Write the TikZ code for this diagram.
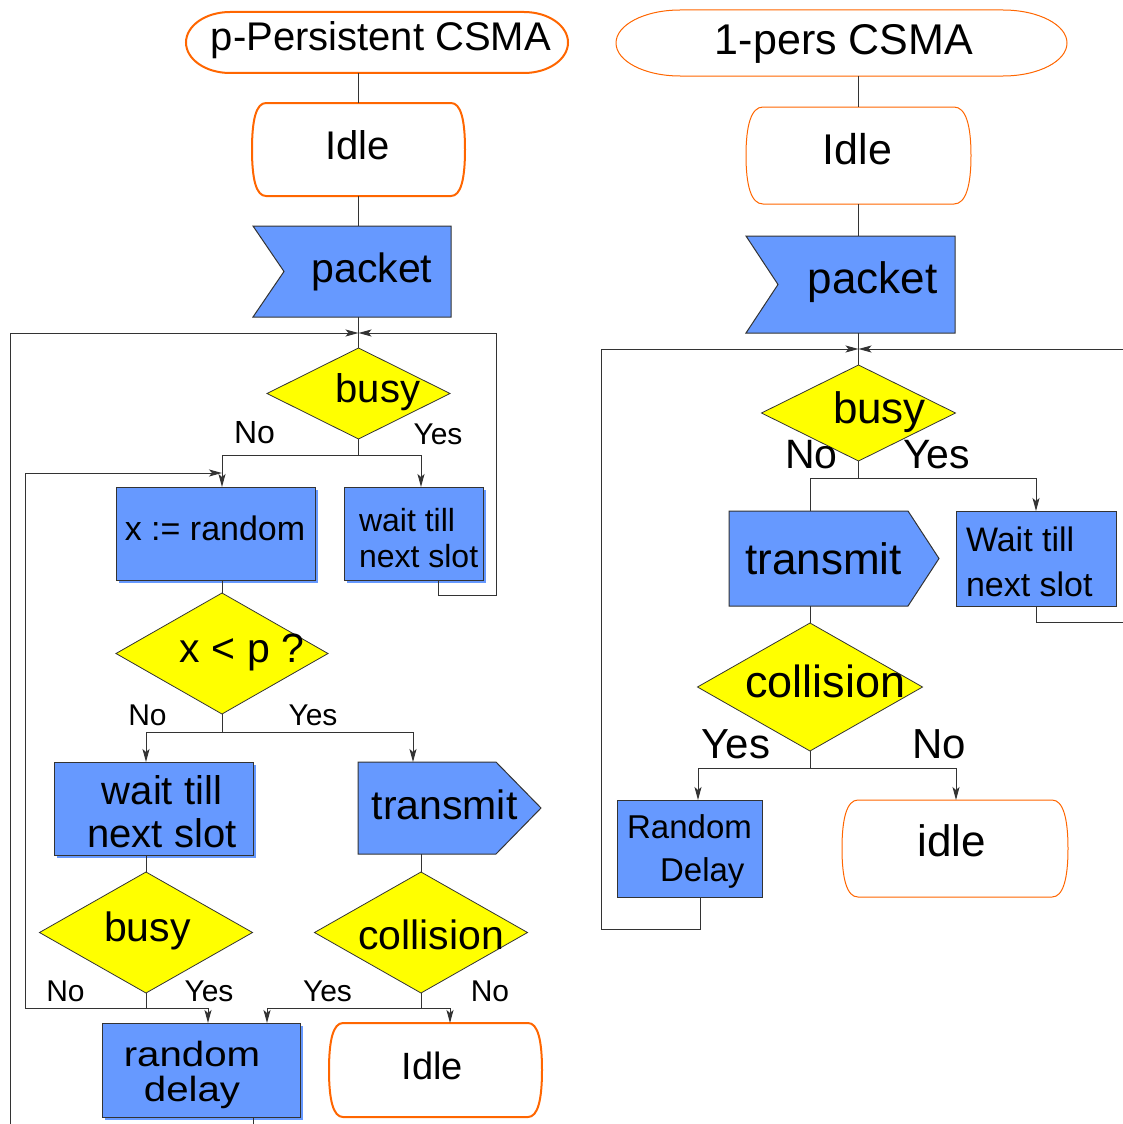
\documentclass[tikz,border=0pt]{standalone}
\usepackage{fontspec}
\setmainfont{Liberation Sans}
\newfontfamily\widesans[FakeStretch=1.15]{Liberation Sans}
\usetikzlibrary{shapes.geometric,arrows.meta}
\definecolor{flowblue}{HTML}{6699FF}
\definecolor{flowyellow}{HTML}{FFFF00}
\definecolor{termorange}{HTML}{FF6600}
\definecolor{wire}{HTML}{333333}
\pgfdeclarelayer{bg}
\pgfsetlayers{bg,main}
\newcommand\fsz[2]{\fontsize{#1}{#2}\selectfont}

% start/end symbol: flat top and bottom, half-elliptic ends
\newcommand\termoutline[4]{% node, end radius x, end radius y, style
  \draw[#4] ([xshift=#2pt]#1.north west) -- ([xshift=-#2pt]#1.north east)
    arc[start angle=90,end angle=-90,x radius=#2pt,y radius=#3pt]
    -- ([xshift=#2pt]#1.south west)
    arc[start angle=270,end angle=90,x radius=#2pt,y radius=#3pt] -- cycle;}
% state box with rounded corners and slightly bulging sides
\newcommand\idleoutline[3]{% node, corner inset, style
  \draw[#3] ([xshift=#2pt]#1.north west) -- ([xshift=-#2pt]#1.north east)
    .. controls ([xshift=-0.3*#2pt]#1.north east) and ([yshift=30pt]#1.east) .. (#1.east)
    .. controls ([yshift=-30pt]#1.east) and ([xshift=-0.3*#2pt]#1.south east) .. ([xshift=-#2pt]#1.south east)
    -- ([xshift=#2pt]#1.south west)
    .. controls ([xshift=0.3*#2pt]#1.south west) and ([yshift=-30pt]#1.west) .. (#1.west)
    .. controls ([yshift=30pt]#1.west) and ([xshift=0.3*#2pt]#1.north west) .. cycle;}
% incoming-event flag, notched on the left
\newcommand\notchoutline[3]{% node, notch depth, style
  \draw[#3] (#1.north west) -- (#1.north east) -- (#1.south east) -- (#1.south west)
    -- ([xshift=#2pt]#1.west) -- cycle;}
% outgoing-event flag, pointed on the right
\newcommand\pointoutline[3]{% node, point length, style
  \draw[#3] (#1.north west) -- ([xshift=-#2pt]#1.north east) -- (#1.east)
    -- ([xshift=-#2pt]#1.south east) -- (#1.south west) -- cycle;}
% offset fill seen below and right of some process boxes
\newcommand\boxshadow[1]{%
  \fill[flowblue] ([shift={(3,3)}]#1.north west) rectangle ([shift={(3,3)}]#1.south east);}

\tikzset{
  wireline/.style={draw=wire, line width=1pt},
  flowarrow/.style={wireline, -{Stealth[length=13pt,width=7pt,inset=3pt]}},
  procbox/.style={draw=wire, line width=1pt, fill=flowblue, inner sep=0pt, outer sep=0pt},
  decision/.style={diamond, draw=wire, line width=0.8pt, fill=flowyellow, inner sep=0pt, outer sep=0pt},
  frame/.style={inner sep=0pt, outer sep=0pt},
  thickterm/.style={draw=termorange, line width=2pt, fill=white},
  thinterm/.style={draw=termorange, line width=1pt, fill=white},
  blueshape/.style={draw=wire, line width=1pt, fill=flowblue},
  edgetext/.style={inner sep=0pt},
}

\begin{document}
\begin{tikzpicture}[x=1pt, y=-1pt]
\useasboundingbox (0,0) rectangle (1123,1124);
\clip (0,0) rectangle (1123,1124);

% ---------------- p-persistent CSMA ----------------
\node[frame, minimum width=382pt, minimum height=61pt,
  label={[font=\fsz{40}{48}, shift={(4,-2.8)}]center:p-Persistent CSMA}] (tA) at (377,42.5) {};
\node[frame, minimum width=213pt, minimum height=93pt,
  label={[font=\fsz{40}{48}, shift={(-1,-4)}]center:Idle}] (idleA) at (358.5,149.5) {};
\node[frame, minimum width=198pt, minimum height=91pt,
  label={[font=\fsz{41}{48}, shift={(20,0)}]center:packet}] (pktA) at (352,271.5) {};
\node[decision, minimum width=183pt, minimum height=91pt,
  label={[font=\fsz{40}{48}, shift={(19.5,-1)}]center:busy}] (busyA) at (358.5,393.5) {};
\node[procbox, minimum width=199pt, minimum height=93pt,
  label={[font=\fsz{34}{40}, shift={(-0.5,-5)}]center:{x := random}}] (xr) at (215.5,533.5) {};
\node[procbox, minimum width=139pt, minimum height=93pt,
  label={[font=\fsz{32}{36}, align=left, shift={(5.1,4.8)}]center:{wait till\\next slot}}] (waitA) at (413.5,533.5) {};
\node[decision, minimum width=212pt, minimum height=121pt,
  label={[font=\fsz{41}{48}, shift={(20,-1)}]center:{x < p ?}}] (xlp) at (222,653.5) {};
\node[procbox, minimum width=199pt, minimum height=93pt,
  label={[font=\fsz{40}{43}, align=center, shift={(8.5,3.4)}]center:{wait till\\next slot}}] (wB) at (153.5,808.5) {};
\node[frame, minimum width=183pt, minimum height=92pt,
  label={[font=\fsz{41}{48}, shift={(-5,-3)}]center:transmit}] (tmA) at (449.5,808) {};
\node[decision, minimum width=213pt, minimum height=121pt,
  label={[font=\fsz{41}{48}, shift={(1.5,-1.5)}]center:busy}] (busyB) at (146,932.5) {};
\node[decision, minimum width=213pt, minimum height=121pt,
  label={[font=\fsz{41}{48}, shift={(10,2.5)}]center:collision}] (collA) at (421,932.5) {};
\node[procbox, minimum width=198pt, minimum height=94pt,
  label={[font=\widesans\fsz{35}{35}, align=center, shift={(-9,5)}]center:{random\\delay}}] (rdA) at (201,1070) {};
\node[frame, minimum width=213pt, minimum height=94pt,
  label={[font=\fsz{38}{48}, shift={(-3,-4)}]center:Idle}] (idleB) at (435.5,1070) {};

% ---------------- 1-persistent CSMA ----------------
\node[frame, minimum width=451pt, minimum height=66pt,
  label={[font=\fsz{43}{50}, shift={(2.5,0.8)}]center:1-pers CSMA}] (tB) at (841.5,43) {};
\node[frame, minimum width=225pt, minimum height=97pt,
  label={[font=\fsz{43}{50}, shift={(-1,-6.2)}]center:Idle}] (idleC) at (858.5,155.5) {};
\node[frame, minimum width=209pt, minimum height=97pt,
  label={[font=\fsz{44}{50}, shift={(22,-2)}]center:packet}] (pkB) at (850.5,284.5) {};
\node[decision, minimum width=194pt, minimum height=96pt,
  label={[font=\fsz{44}{50}, shift={(21,-1)}]center:busy}] (busyC) at (858.5,413) {};
\node[frame, minimum width=210pt, minimum height=95pt,
  label={[font=\fsz{44}{50}, shift={(-10.5,0.5)}]center:transmit}] (tmB) at (834,558.5) {};
\node[procbox, minimum width=160pt, minimum height=95pt,
  label={[font=\fsz{34}{45}, align=left, shift={(-6.7,3.6)}]center:{Wait till\\next slot}}] (waitB) at (1036,558.5) {};
\node[decision, minimum width=225pt, minimum height=128pt,
  label={[font=\fsz{45}{50}, shift={(15.5,-6)}]center:collision}] (collB) at (810,687) {};
\node[procbox, minimum width=145pt, minimum height=97pt,
  label={[font=\fsz{33}{43}, align=left, shift={(0,3)}]center:{Random\\\hspace*{33pt}Delay}}] (rdB) at (689.5,848.5) {};
\node[frame, minimum width=226pt, minimum height=97pt,
  label={[font=\fsz{44}{50}, shift={(-3,-7.5)}]center:idle}] (idleD) at (955,848.5) {};

% outlines of the non-rectangular symbols, behind their texts
\begin{pgfonlayer}{bg}
  \boxshadow{xr}
  \boxshadow{waitA}
  \boxshadow{wB}
  \boxshadow{rdA}
  \termoutline{tA}{44}{30.5}{thickterm}
  \idleoutline{idleA}{14}{thickterm}
  \idleoutline{idleB}{14}{thickterm}
  \notchoutline{pktA}{31}{blueshape}
  \pointoutline{tmA}{45}{blueshape}
  \termoutline{tB}{64}{33}{thinterm}
  \idleoutline{idleC}{17}{thinterm}
  \idleoutline{idleD}{16}{thinterm}
  \notchoutline{pkB}{32}{blueshape}
  \pointoutline{tmB}{31}{blueshape}
\end{pgfonlayer}

% branch labels
\node[edgetext, font=\fsz{32}{38}] (noA) at (254.5,432.5) {No};
\node[edgetext, font=\fsz{30}{36}] (yesA) at (438,434) {Yes};
\node[edgetext, font=\fsz{30}{36}] (noB) at (147.5,715) {No};
\node[edgetext, font=\fsz{30}{36}] (yesB) at (313,715) {Yes};
\node[edgetext, font=\fsz{30}{36}] (noC) at (65.5,991) {No};
\node[edgetext, font=\fsz{30}{36}] (yesC) at (209,991.5) {Yes};
\node[edgetext, font=\fsz{30}{36}] (yesD) at (327.5,991) {Yes};
\node[edgetext, font=\fsz{30}{36}] (noD) at (490,991) {No};
\node[edgetext, font=\fsz{41}{48}] (noE) at (811.5,455) {No};
\node[edgetext, font=\fsz{41}{48}] (yesE) at (936.5,455) {Yes};
\node[edgetext, font=\fsz{42}{48}] (yesF) at (736,744) {Yes};
\node[edgetext, font=\fsz{42}{48}] (noF) at (939,744) {No};

% junction points of the loops
\coordinate (mA) at (358.5,333);
\coordinate (jA) at (222,473);
\coordinate (rA) at (496,595);
\coordinate (lA) at (10,1140);
\coordinate (lB) at (25,1008);
\coordinate (mB) at (858.5,349);
\coordinate (rB) at (1140,622);
\coordinate (lD) at (601,929);

% connectors, p-persistent
\draw[wireline] (idleA.north |- tA.south) -- (idleA.north);
\draw[wireline] (idleA.south) -- (idleA.south |- pktA.north);
\draw[wireline] (idleA.south |- pktA.south) -- (busyA.north);
\draw[flowarrow] (busyA.south) -- ++(0,16) -| ([xshift=6.5pt]xr.north);
\draw[flowarrow] (busyA.south) -- ++(0,16) -| ([xshift=7.5pt]waitA.north);
\draw[flowarrow] ([xshift=24.5pt]waitA.south) |- (rA) |- (mA);
\draw[wireline] ([xshift=6.5pt]xr.south) -- (xlp.north);
\draw[flowarrow] (xlp.south) -- ++(0,18) -| ([xshift=-7.5pt]wB.north);
\draw[flowarrow] (xlp.south) -- ++(0,18) -| ([xshift=-36.5pt]tmA.north);
\draw[wireline] ([xshift=-7.5pt]wB.south) -- (busyB.north);
\draw[wireline] ([xshift=-28.5pt]tmA.south) -- (collA.north);
\draw[flowarrow] (busyB.south) |- (lB) |- (jA);
\draw[flowarrow] (busyB.south) -- ++(0,15) -| ([xshift=7pt]rdA.north);
\draw[flowarrow] (collA.south) -- ++(0,15) -| ([xshift=66pt]rdA.north);
\draw[flowarrow] (collA.south) -- ++(0,15) -| ([xshift=14.5pt]idleB.north);
\draw[flowarrow] ([xshift=52pt]rdA.south) |- (lA) |- (mA);

% connectors, 1-persistent
\draw[wireline] (idleC.north |- tB.south) -- (idleC.north);
\draw[wireline] (idleC.south) -- (idleC.south |- pkB.north);
\draw[wireline] (idleC.south |- pkB.south) -- (busyC.north);
\draw[wireline] (busyC.south) -- ++(0,17) -| ([xshift=-24pt]tmB.north);
\draw[flowarrow] (busyC.south) -- ++(0,17) -| (waitB.north);
\draw[flowarrow] (waitB.south) |- (rB) |- (mB);
\draw[wireline] ([xshift=-24pt]tmB.south) -- (collB.north);
\draw[flowarrow] (collB.south) -- ++(0,17) -| ([xshift=8.5pt]rdB.north);
\draw[flowarrow] (collB.south) -- ++(0,17) -| ([xshift=1pt]idleD.north);
\draw[flowarrow] ([xshift=10.5pt]rdB.south) |- (lD) |- (mB);
\end{tikzpicture}
\end{document}
